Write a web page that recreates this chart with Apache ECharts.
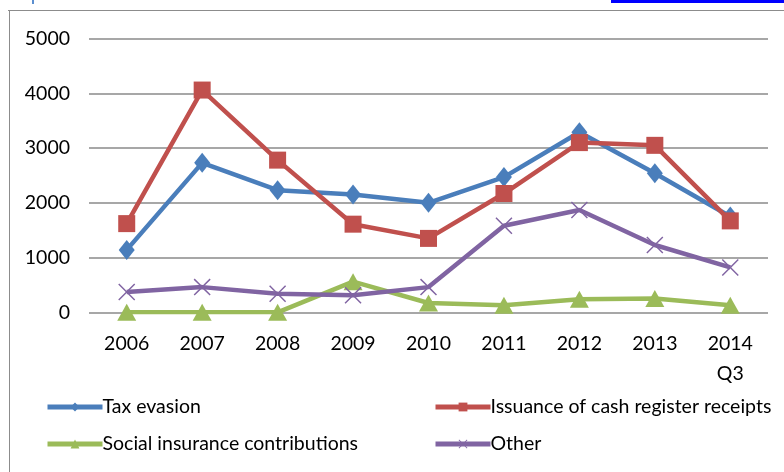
<!DOCTYPE html>
<html>
<head>
<meta charset="utf-8">
<script src="https://cdn.jsdelivr.net/npm/echarts@6/dist/echarts.min.js"></script>
<style>html,body{margin:0;padding:0;background:#fff;}#c{width:784px;height:472px;}</style>
</head>
<body>
<div id="c"></div>
<script>
const categories = ['2006','2007','2008','2009','2010','2011','2012','2013','2014\nQ3'];
const taxEvasion = [1140, 2730, 2230, 2150, 2000, 2470, 3290, 2540, 1750];
const cashReceipts = [1620, 4060, 2780, 1610, 1350, 2170, 3100, 3050, 1670];
const socialInsurance = [0, 0, 0, 560, 170, 130, 240, 250, 130];
const other = [370, 460, 340, 310, 460, 1580, 1870, 1230, 820];
const yTicks = {min: 0, max: 5000, interval: 1000};

const FONT = 'Lato';
const FS = 19.5;
const xPath = 'path://M0,1.2 L1.2,0 L10,8.8 L18.8,0 L20,1.2 L11.2,10 L20,18.8 L18.8,20 L10,11.2 L1.2,20 L0,18.8 L8.8,10 Z';
const names = ['Tax evasion','Issuance of cash register receipts','Social insurance contributions','Other'];
const colors = ['#4A7EBB','#C0504D','#9BBB59','#8064A2'];

function mkSeries(name, data, color, symbol, size) {
  return {
    name, type: 'line', data, symbol, symbolSize: size,
    lineStyle: {width: 4.5, color}, itemStyle: {color},
    emphasis: {disabled: true}, animation: false, z: 3
  };
}

function mkLegend(name, left, top) {
  return {
    data: [name], left, top, orient: 'horizontal', padding: 0,
    itemWidth: 55, itemHeight: 11, itemGap: 0,
    lineStyle: {width: 5},
    textStyle: {fontFamily: FONT, fontSize: FS, color: '#000', padding: [0,0,0,-5]},
    selectedMode: false
  };
}

const chart = echarts.init(document.getElementById('c'), null, {renderer: 'canvas'});
chart.setOption({
  animation: false,
  backgroundColor: '#fff',
  grid: {left: 89, top: 38.6, width: 679, height: 273.7},
  legend: [
    mkLegend(names[0], 45, 397),
    mkLegend(names[1], 433, 397),
    mkLegend(names[2], 45, 434),
    mkLegend(names[3], 433, 434)
  ],
  xAxis: {
    type: 'category', data: categories, boundaryGap: true,
    axisLine: {show: false}, axisTick: {show: false},
    axisLabel: {fontFamily: FONT, fontSize: FS, color: '#000', margin: 16, lineHeight: 30, interval: 0}
  },
  yAxis: {
    type: 'value', min: yTicks.min, max: yTicks.max, interval: yTicks.interval,
    axisLine: {show: false}, axisTick: {show: false},
    axisLabel: {fontFamily: FONT, fontSize: FS, color: '#000', margin: 19, formatter: v => String(v)},
    splitLine: {lineStyle: {color: '#8a8a8a', width: 1.5}}
  },
  series: [
    mkSeries(names[0], taxEvasion, colors[0], 'diamond', [16, 20]),
    mkSeries(names[1], cashReceipts, colors[1], 'rect', 17),
    mkSeries(names[2], socialInsurance, colors[2], 'triangle', [19, 17]),
    mkSeries(names[3], other, colors[3], xPath, 17)
  ],
  graphic: [
    {type: 'line', shape: {x1: 8, y1: 10.5, x2: 784, y2: 10.5}, style: {stroke: '#8c8c8c', lineWidth: 1}, silent: true},
    {type: 'line', shape: {x1: 9.5, y1: 10, x2: 9.5, y2: 472}, style: {stroke: '#8c8c8c', lineWidth: 1}, silent: true},
    {type: 'rect', shape: {x: 611, y: 0, width: 173, height: 3}, style: {fill: '#0000ff'}, silent: true},
    {type: 'rect', shape: {x: 32, y: 0, width: 2, height: 4}, style: {fill: '#5b8fd0'}, silent: true}
  ]
});
</script>
</body>
</html>
